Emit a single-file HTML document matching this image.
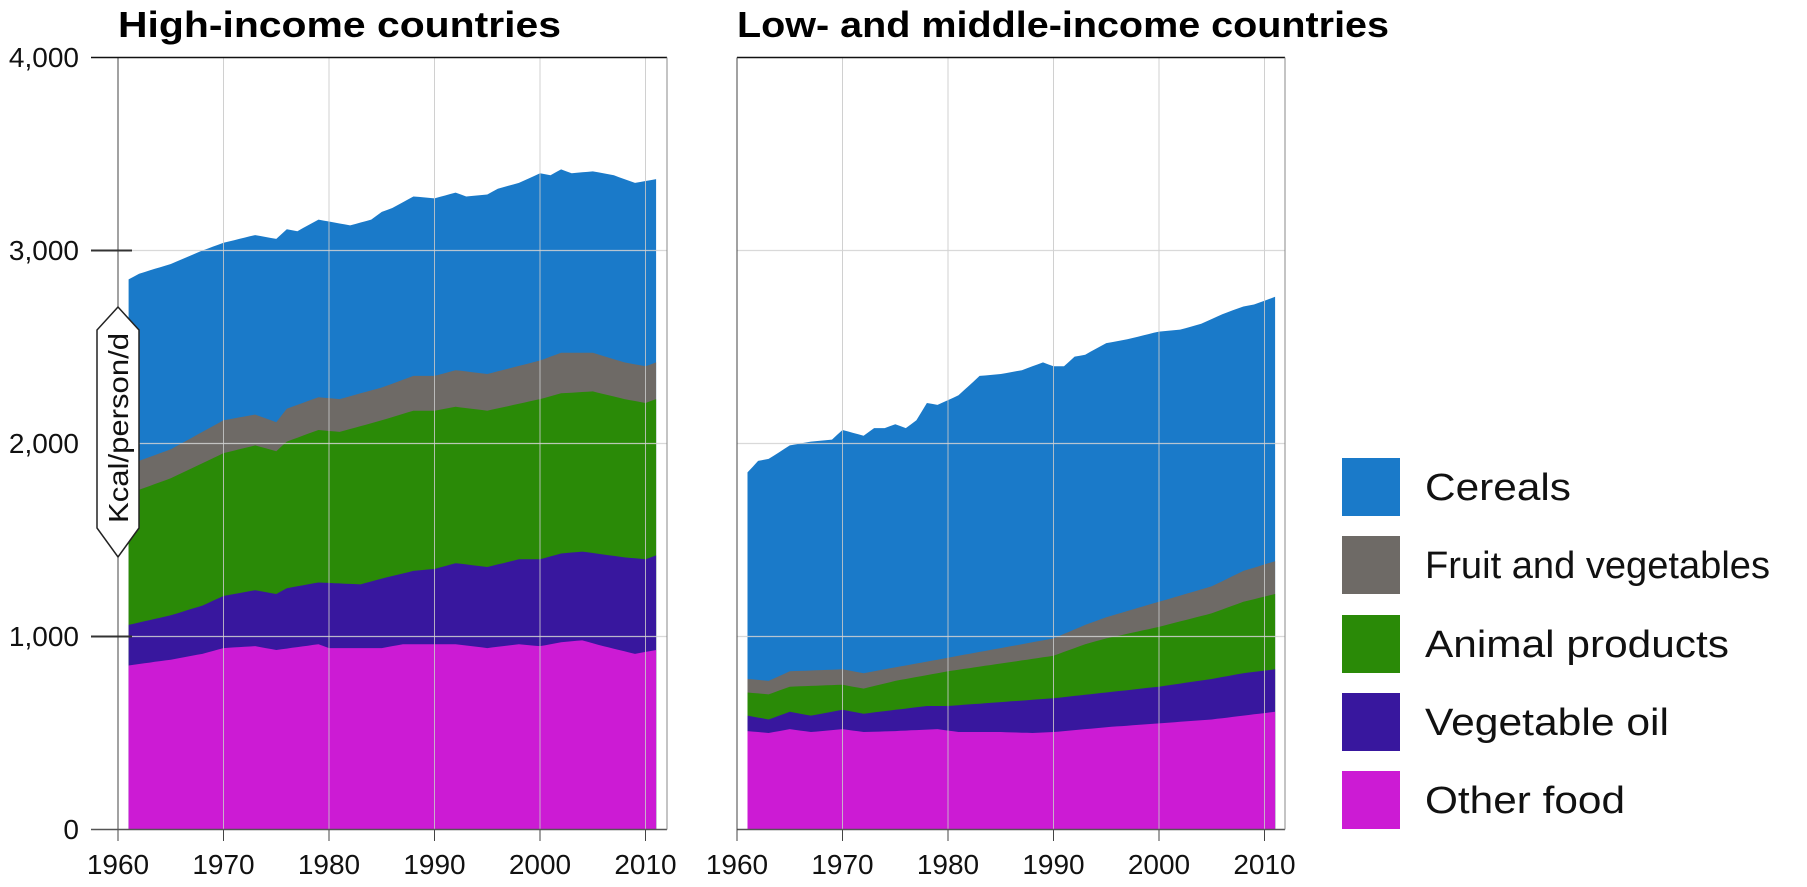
<!DOCTYPE html>
<html><head><meta charset="utf-8"><style>
html,body{margin:0;padding:0;background:#fff;}
svg{display:block;}
text{font-family:"Liberation Sans",sans-serif;}
.t{font-family:"Liberation Sans",sans-serif;font-size:28px;fill:#111;}
.h{font-weight:bold;font-size:36px;fill:#000;}
.lg{font-size:38px;fill:#111;}
</style></head><body>
<svg id="s" width="1807" height="887" viewBox="0 0 1807 887" xmlns="http://www.w3.org/2000/svg">
<g id="areas"></g>
<g id="grid"></g>
<text class="h" x="118" y="37" textLength="443" lengthAdjust="spacingAndGlyphs">High-income countries</text>
<text class="h" x="737" y="37" textLength="652" lengthAdjust="spacingAndGlyphs">Low- and middle-income countries</text>
<g class="t" text-anchor="end">
<text x="79" y="67">4,000</text><text x="79" y="260">3,000</text><text x="79" y="453">2,000</text><text x="79" y="646">1,000</text><text x="79" y="839">0</text>
</g>
<g id="xl" class="t" text-anchor="middle"></g>
<rect x="1342" y="458" width="58" height="58" fill="#1a7ac9"/>
<rect x="1342" y="536" width="58" height="58" fill="#6e6a66"/>
<rect x="1342" y="615" width="58" height="58" fill="#2a8a07"/>
<rect x="1342" y="693" width="58" height="58" fill="#38179e"/>
<rect x="1342" y="771" width="58" height="58" fill="#cc1bd4"/>
<text class="lg" x="1425" y="500" textLength="146" lengthAdjust="spacingAndGlyphs">Cereals</text>
<text class="lg" x="1425" y="578" textLength="345" lengthAdjust="spacingAndGlyphs">Fruit and vegetables</text>
<text class="lg" x="1425" y="657" textLength="304" lengthAdjust="spacingAndGlyphs">Animal products</text>
<text class="lg" x="1425" y="735" textLength="244" lengthAdjust="spacingAndGlyphs">Vegetable oil</text>
<text class="lg" x="1425" y="813" textLength="200" lengthAdjust="spacingAndGlyphs">Other food</text>
<polygon points="118,307 139,330 139,528 118,557 97,528 97,330" fill="#fff" stroke="#222" stroke-width="1.5"/>
<text x="0" y="0" transform="translate(128,428) rotate(-90)" text-anchor="middle" font-size="28" fill="#111" textLength="190" lengthAdjust="spacingAndGlyphs">Kcal/person/d</text>
</svg>
<script>
var NS="http://www.w3.org/2000/svg";
function interp(pts,yr){for(var i=0;i<pts.length-1;i++){var a=pts[i],b=pts[i+1];if(yr>=a[0]&&yr<=b[0])return a[1]+(b[1]-a[1])*(yr-a[0])/(b[0]-a[0]);}return pts[pts.length-1][1];}
function Y(v){return 829.5-v*0.193;}
var L={
tot:[[1961,2850],[1962,2880],[1965,2930],[1968,3000],[1970,3040],[1973,3080],[1975,3060],[1976,3110],[1977,3100],[1979,3160],[1980,3150],[1982,3130],[1984,3160],[1985,3200],[1986,3220],[1988,3280],[1990,3270],[1992,3300],[1993,3280],[1995,3290],[1996,3320],[1998,3350],[2000,3400],[2001,3390],[2002,3420],[2003,3400],[2005,3410],[2007,3390],[2009,3350],[2011,3370]],
fr:[[1961,1890],[1965,1970],[1970,2120],[1973,2150],[1975,2110],[1976,2180],[1979,2240],[1981,2230],[1985,2290],[1988,2350],[1990,2350],[1992,2380],[1995,2360],[2000,2430],[2002,2470],[2005,2470],[2008,2420],[2010,2400],[2011,2420]],
an:[[1961,1740],[1965,1820],[1970,1950],[1973,1990],[1975,1960],[1976,2010],[1979,2070],[1981,2060],[1985,2120],[1988,2170],[1990,2170],[1992,2190],[1995,2170],[2000,2230],[2002,2260],[2005,2270],[2008,2230],[2010,2210],[2011,2230]],
vo:[[1961,1060],[1965,1110],[1968,1160],[1970,1210],[1973,1240],[1975,1220],[1976,1250],[1979,1280],[1983,1270],[1985,1300],[1988,1340],[1990,1350],[1992,1380],[1995,1360],[1998,1400],[2000,1400],[2002,1430],[2004,1440],[2008,1410],[2010,1400],[2011,1420]],
ot:[[1961,850],[1965,880],[1968,910],[1970,940],[1973,950],[1975,930],[1979,960],[1980,940],[1985,940],[1987,960],[1990,960],[1992,960],[1995,940],[1998,960],[2000,950],[2002,970],[2004,980],[2006,950],[2009,910],[2011,930]]};
var R={
tot:[[1961,1850],[1962,1910],[1963,1920],[1965,1990],[1967,2010],[1969,2020],[1970,2070],[1972,2040],[1973,2080],[1974,2080],[1975,2100],[1976,2080],[1977,2120],[1978,2210],[1979,2200],[1981,2250],[1983,2350],[1985,2360],[1987,2380],[1989,2420],[1990,2400],[1991,2400],[1992,2450],[1993,2460],[1995,2520],[1997,2540],[2000,2580],[2002,2590],[2004,2620],[2006,2670],[2008,2710],[2009,2720],[2011,2760]],
fr:[[1961,780],[1963,770],[1965,820],[1970,830],[1972,810],[1975,840],[1980,890],[1985,940],[1990,990],[1993,1060],[1995,1100],[2000,1180],[2005,1260],[2008,1340],[2011,1390]],
an:[[1961,710],[1963,700],[1965,740],[1970,750],[1972,730],[1975,770],[1980,820],[1985,860],[1990,900],[1993,960],[1995,990],[2000,1050],[2005,1120],[2008,1180],[2011,1220]],
vo:[[1961,590],[1963,570],[1965,610],[1967,590],[1970,620],[1972,600],[1975,620],[1978,640],[1980,640],[1985,660],[1990,680],[1995,710],[2000,740],[2005,780],[2008,810],[2011,830]],
ot:[[1961,510],[1963,500],[1965,520],[1967,505],[1970,520],[1972,505],[1975,510],[1979,520],[1981,505],[1985,505],[1988,500],[1990,505],[1995,530],[2000,550],[2005,570],[2008,590],[2011,610]]};
var cols={tot:"#1a7ac9",fr:"#6e6a66",an:"#2a8a07",vo:"#38179e",ot:"#cc1bd4"};
var g=document.getElementById("areas");
function panel(D,x0){
 ["tot","fr","an","vo","ot"].forEach(function(k){
  var p=[];for(var yr=1961;yr<=2011;yr+=0.5){p.push((x0+(yr-1960)*10.55).toFixed(1)+","+Y(interp(D[k],yr)).toFixed(1));}
  p.push((x0+51*10.55).toFixed(1)+","+Y(0));p.push((x0+10.55).toFixed(1)+","+Y(0));
  var e=document.createElementNS(NS,"polygon");e.setAttribute("points",p.join(" "));e.setAttribute("fill",cols[k]);g.appendChild(e);
 });
}
panel(L,118);panel(R,737);
var gr=document.getElementById("grid"),xl=document.getElementById("xl");
function line(x1,y1,x2,y2,c,w){var e=document.createElementNS(NS,"line");e.setAttribute("x1",x1);e.setAttribute("y1",y1);e.setAttribute("x2",x2);e.setAttribute("y2",y2);e.setAttribute("stroke",c);e.setAttribute("stroke-width",w||1);gr.appendChild(e);}
[[118,667],[737,1285]].forEach(function(pp,i){
 var x0=pp[0],x1=pp[1];
 for(var d=0;d<=5;d++){var x=x0+d*105.5;line(x,57.5,x,829.5,d==0&&i==0?"#444":"rgba(200,200,200,0.85)",1);line(x,829.5,x,841,"#444",1);
  var t=document.createElementNS(NS,"text");t.setAttribute("x",x);t.setAttribute("y",874);t.textContent=1960+d*10;xl.appendChild(t);}
 [1000,2000,3000].forEach(function(v){line(x0,Y(v),x1,Y(v),"rgba(210,210,210,0.85)",1.3);});
 line(i==0?91:x0,57.5,x1,57.5,"#111",1.5);
 line(i==0?91:x0,829.5,x1,829.5,"#555",1.5);
 line(x1,57.5,x1,829.5,"#888",1);
 if(i==1)line(x0,57.5,x0,841,"#444",1);
});
line(91,Y(3000),132,Y(3000),"#333",2);line(91,Y(1000),132,Y(1000),"#333",2);
</script>
</body></html>
